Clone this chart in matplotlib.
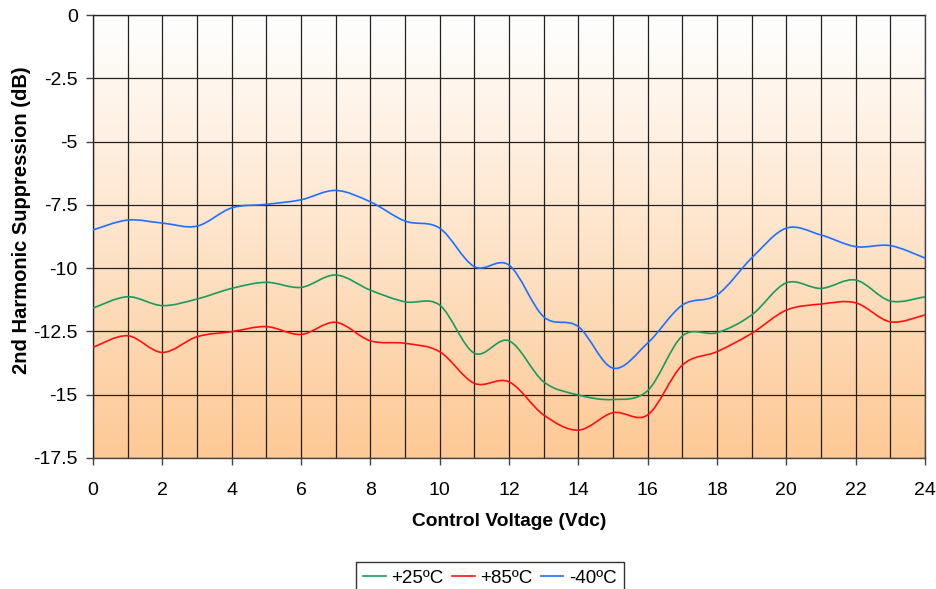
import numpy as np
import matplotlib
matplotlib.use("Agg")
import matplotlib.pyplot as plt
from matplotlib.path import Path
from matplotlib.patches import PathPatch
from matplotlib.lines import Line2D
from matplotlib.colors import LinearSegmentedColormap

plt.rcParams['font.family'] = ['Liberation Sans', 'DejaVu Sans']

# control voltage (Vdc)
voltage = list(range(0, 25))

# 2nd harmonic suppression (dB)
supp_25 = [-11.58, -11.13, -11.48, -11.22, -10.80, -10.56, -10.76, -10.27, -10.87,
           -11.33, -11.46, -13.36, -12.87, -14.49, -15.01, -15.19, -14.84, -12.68,
           -12.55, -11.85, -10.58, -10.80, -10.47, -11.30, -11.13]
supp_85 = [-13.13, -12.67, -13.33, -12.71, -12.51, -12.31, -12.62, -12.14, -12.87,
           -12.97, -13.30, -14.55, -14.49, -15.80, -16.40, -15.71, -15.80, -13.83,
           -13.30, -12.58, -11.66, -11.42, -11.37, -12.12, -11.85]
supp_m40 = [-8.49, -8.10, -8.22, -8.34, -7.62, -7.48, -7.30, -6.93, -7.38,
            -8.14, -8.42, -9.94, -9.88, -11.92, -12.31, -13.95, -12.96, -11.46,
            -11.06, -9.60, -8.42, -8.69, -9.15, -9.11, -9.60]

series = [("+25ºC", supp_25, "#1a9a5c"),
          ("+85ºC", supp_85, "#ff1010"),
          ("-40ºC", supp_m40, "#1f6fff")]


def smooth_path(xs, ys):
    # excel-style smoothed line: cubic bezier through every point
    p = np.column_stack([xs, ys]).astype(float)
    ext = np.vstack([p[0], p, p[-1]])
    verts = [p[0]]
    codes = [Path.MOVETO]
    for i in range(len(p) - 1):
        c1 = ext[i + 1] + (ext[i + 2] - ext[i]) / 6.0
        c2 = ext[i + 2] - (ext[i + 3] - ext[i + 1]) / 6.0
        verts += [c1, c2, ext[i + 2]]
        codes += [Path.CURVE4] * 3
    return Path(verts, codes)


fig = plt.figure(figsize=(9.36, 5.89), dpi=100)
ax = fig.add_axes([93/936, 1-458/589, 832/936, 443/589])

# gradient background
cmap = LinearSegmentedColormap.from_list("bg", ["#ffffff", "#fdc995"])
grad = np.linspace(0, 1, 256).reshape(-1, 1)
ax.imshow(grad, cmap=cmap, aspect='auto', extent=[0, 24, -17.5, 0],
          origin='upper', zorder=0, interpolation='bilinear')

handles = []
for name, vals, col in series:
    ax.add_patch(PathPatch(smooth_path(voltage, vals), facecolor='none',
                           edgecolor=col, lw=1.2, zorder=3))
    handles.append(Line2D([], [], color=col, lw=1.2, label=name))

ax.set_xlim(0, 24)
ax.set_ylim(-17.5, 0)
ax.set_xticks(range(0, 25, 2))
ax.set_xticks(range(1, 25, 2), minor=True)
ax.set_yticks(np.arange(-17.5, 0.1, 2.5))
ax.set_yticklabels(["-17.5", "-15", "-12.5", "-10", "-7.5", "-5", "-2.5", "0"])
ax.tick_params(axis='both', which='major', direction='out', length=5,
               width=1, color='#444444', labelsize=14)
ax.tick_params(axis='x', which='major', pad=12)
ax.tick_params(axis='y', which='major', pad=6)
ax.tick_params(axis='x', which='minor', length=0)
ax.grid(True, which='both', color='#222222', lw=0.9, zorder=1)
ax.set_axisbelow(False)
for s in ax.spines.values():
    s.set_color('#444444')
    s.set_linewidth(1)
    s.set_zorder(2)

ax.set_xlabel("Control Voltage (Vdc)", fontsize=13.8, fontweight='bold', labelpad=10)
ax.set_ylabel("2nd Harmonic Suppression (dB)", fontsize=14.5, fontweight='bold', labelpad=2)
ax.yaxis.set_label_coords(-0.075, 0.537)

leg = fig.legend(handles=handles, loc='upper center', ncol=3,
                 bbox_to_anchor=(490/936, 1-562/589), fontsize=13.5,
                 frameon=True, fancybox=False, edgecolor='black',
                 handlelength=1.2, handletextpad=0.3, columnspacing=0.45,
                 borderpad=0.4, borderaxespad=0)
leg.get_frame().set_linewidth(1)

fig.savefig("out.png", dpi=100)
